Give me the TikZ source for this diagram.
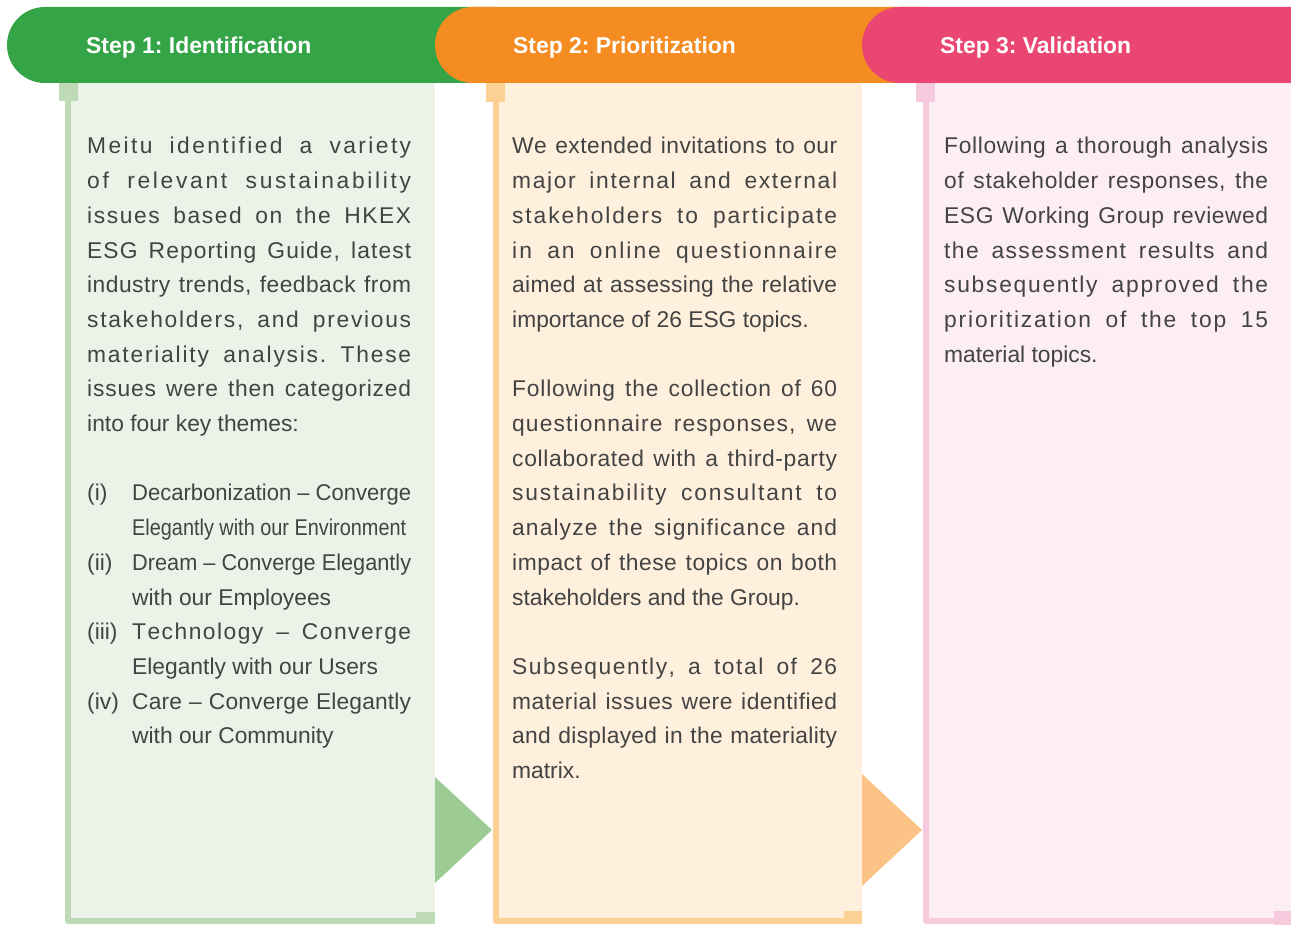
\documentclass[tikz,border=0pt]{standalone}
\usepackage{fontspec}
\setmainfont{Liberation Sans}
\usepackage{graphicx}
\definecolor{ghead}{HTML}{34A446}
\definecolor{ohead}{HTML}{F58C22}
\definecolor{phead}{HTML}{EA4672}
\definecolor{gfill}{HTML}{EBF3E8}
\definecolor{ofill}{HTML}{FEF0DD}
\definecolor{pfill}{HTML}{FCEEF3}
\definecolor{gline}{HTML}{BFDBB5}
\definecolor{oline}{HTML}{FDD094}
\definecolor{pline}{HTML}{F6C9DD}
\definecolor{garrow}{HTML}{9DCB94}
\definecolor{oarrow}{HTML}{FBC385}
\definecolor{bodygray}{HTML}{434343}
\ExplSyntaxOn
\seq_new:N \l_jl_words_seq
\cs_new_protected:Npn \jl_spaced:n #1
  {
    \seq_set_split:Nnn \l_jl_words_seq { ~ } { #1 }
    \seq_map_indexed_inline:Nn \l_jl_words_seq
      {
        \int_compare:nNnT { ##1 } > { 1 }
          { \skip_horizontal:n { \fontdimen2\font plus 4.5pt } }
        \tl_map_inline:nn { ##2 } { ####1 \skip_horizontal:n { 0pt plus 1pt } }
        \unskip
      }
  }
\NewDocumentCommand \jl { m m }
  {
    \leavevmode
    \hbox_set:Nn \l_tmpa_box { #2 }
    \dim_compare:nNnTF { \box_wd:N \l_tmpa_box } > { #1 }
      { \resizebox{#1}{\height}{#2} }
      { \hbox_to_wd:nn { #1 } { \jl_spaced:n { #2 } } }
  }
\ExplSyntaxOff
\newcommand\colsetup{\parindent=0pt\parskip=0pt\fontsize{22.8}{34.7}\selectfont\frenchspacing}
\newcommand\lit[2]{\makebox[45pt][l]{#1}\jl{279pt}{#2}\par}
\newcommand\lin[2]{\makebox[45pt][l]{#1}#2\par}
\begin{document}
\frenchspacing
\begin{tikzpicture}[x=1pt,y=-1pt,
  hdrtext/.style={anchor=base west, inner sep=0pt, text=white, font=\fontsize{22.9}{27}\selectfont\bfseries},
  bodytext/.style={anchor=base west, inner sep=0pt, text=bodygray, font=\fontsize{22.8}{34.7}\selectfont},
  border/.style={line width=6pt, line join=round}]
\useasboundingbox (0,0) rectangle (1291,925);
% panel fills
\fill[gfill] (68,83) rectangle (435,921);
\fill[ofill] (496,83) rectangle (862,921);
\fill[pfill] (926,83) rectangle (1291,921);
% borders
\draw[gline,border] (68,101) -- (68,921) -- (416,921);
\draw[oline,border] (496,101) -- (496,921) -- (844,921);
\draw[pline,border] (926,101) -- (926,921) -- (1274,921);
\fill[gline] (59,83) rectangle (78,101);
\fill[gline] (416,912) rectangle (435,924);
\fill[oline] (486,83) rectangle (505,102);
\fill[oline] (844,911) rectangle (862,924);
\fill[pline] (916,83) rectangle (935,102);
\fill[pline] (1274,911) rectangle (1291,925);
% arrows
\fill[garrow] (435,777) -- (492,830) -- (435,883) -- cycle;
\fill[oarrow] (862,774) -- (922,830) -- (862,886) -- cycle;
% header bars
\fill[ghead] (497,7) -- (45,7) arc[start angle=270, end angle=90, radius=38] -- (497,83) -- cycle;
\fill[ohead] (923,7) -- (473,7) arc[start angle=270, end angle=90, radius=38] -- (923,83) -- cycle;
\fill[phead] (1291,7) -- (900,7) arc[start angle=270, end angle=90, radius=38] -- (1291,83) -- cycle;
\node[hdrtext] (h1) at (86,54) {Step 1: Identification};
\node[hdrtext] (h2) at (513,54) {Step 2: Prioritization};
\node[hdrtext] (h3) at (940,54) {Step 3: Validation};
% body texts
\node[bodytext] (t1) at (87,154) {\parbox[t]{324pt}{\colsetup
\jl{324pt}{Meitu identified a variety}\par
\jl{324pt}{of relevant sustainability}\par
\jl{324pt}{issues based on the HKEX}\par
\jl{324pt}{ESG Reporting Guide, latest}\par
\jl{324pt}{industry trends, feedback from}\par
\jl{324pt}{stakeholders, and previous}\par
\jl{324pt}{materiality analysis. These}\par
\jl{324pt}{issues were then categorized}\par
into four key themes:\par
\mbox{}\par
\lit{(i)}{Decarbonization – Converge}
\makebox[45pt][l]{}\jl{274pt}{Elegantly with our Environment}\par
\lit{(ii)}{Dream – Converge Elegantly}
\lin{}{with our Employees}
\lit{(iii)}{Technology – Converge}
\lin{}{Elegantly with our Users}
\lit{(iv)}{Care – Converge Elegantly}
\lin{}{with our Community}}};
\node[bodytext] (t2) at (512,154) {\parbox[t]{325pt}{\colsetup
\jl{325pt}{We extended invitations to our}\par
\jl{325pt}{major internal and external}\par
\jl{325pt}{stakeholders to participate}\par
\jl{325pt}{in an online questionnaire}\par
\jl{325pt}{aimed at assessing the relative}\par
importance of 26 ESG topics.\par
\mbox{}\par
\jl{325pt}{Following the collection of 60}\par
\jl{325pt}{questionnaire responses, we}\par
\jl{325pt}{collaborated with a third-party}\par
\jl{325pt}{sustainability consultant to}\par
\jl{325pt}{analyze the significance and}\par
\jl{325pt}{impact of these topics on both}\par
stakeholders and the Group.\par
\mbox{}\par
\jl{325pt}{Subsequently, a total of 26}\par
\jl{325pt}{material issues were identified}\par
\jl{325pt}{and displayed in the materiality}\par
matrix.}};
\node[bodytext] (t3) at (944,154) {\parbox[t]{324pt}{\colsetup
\jl{324pt}{Following a thorough analysis}\par
\jl{324pt}{of stakeholder responses, the}\par
\jl{324pt}{ESG Working Group reviewed}\par
\jl{324pt}{the assessment results and}\par
\jl{324pt}{subsequently approved the}\par
\jl{324pt}{prioritization of the top 15}\par
material topics.}};
\end{tikzpicture}
\end{document}
